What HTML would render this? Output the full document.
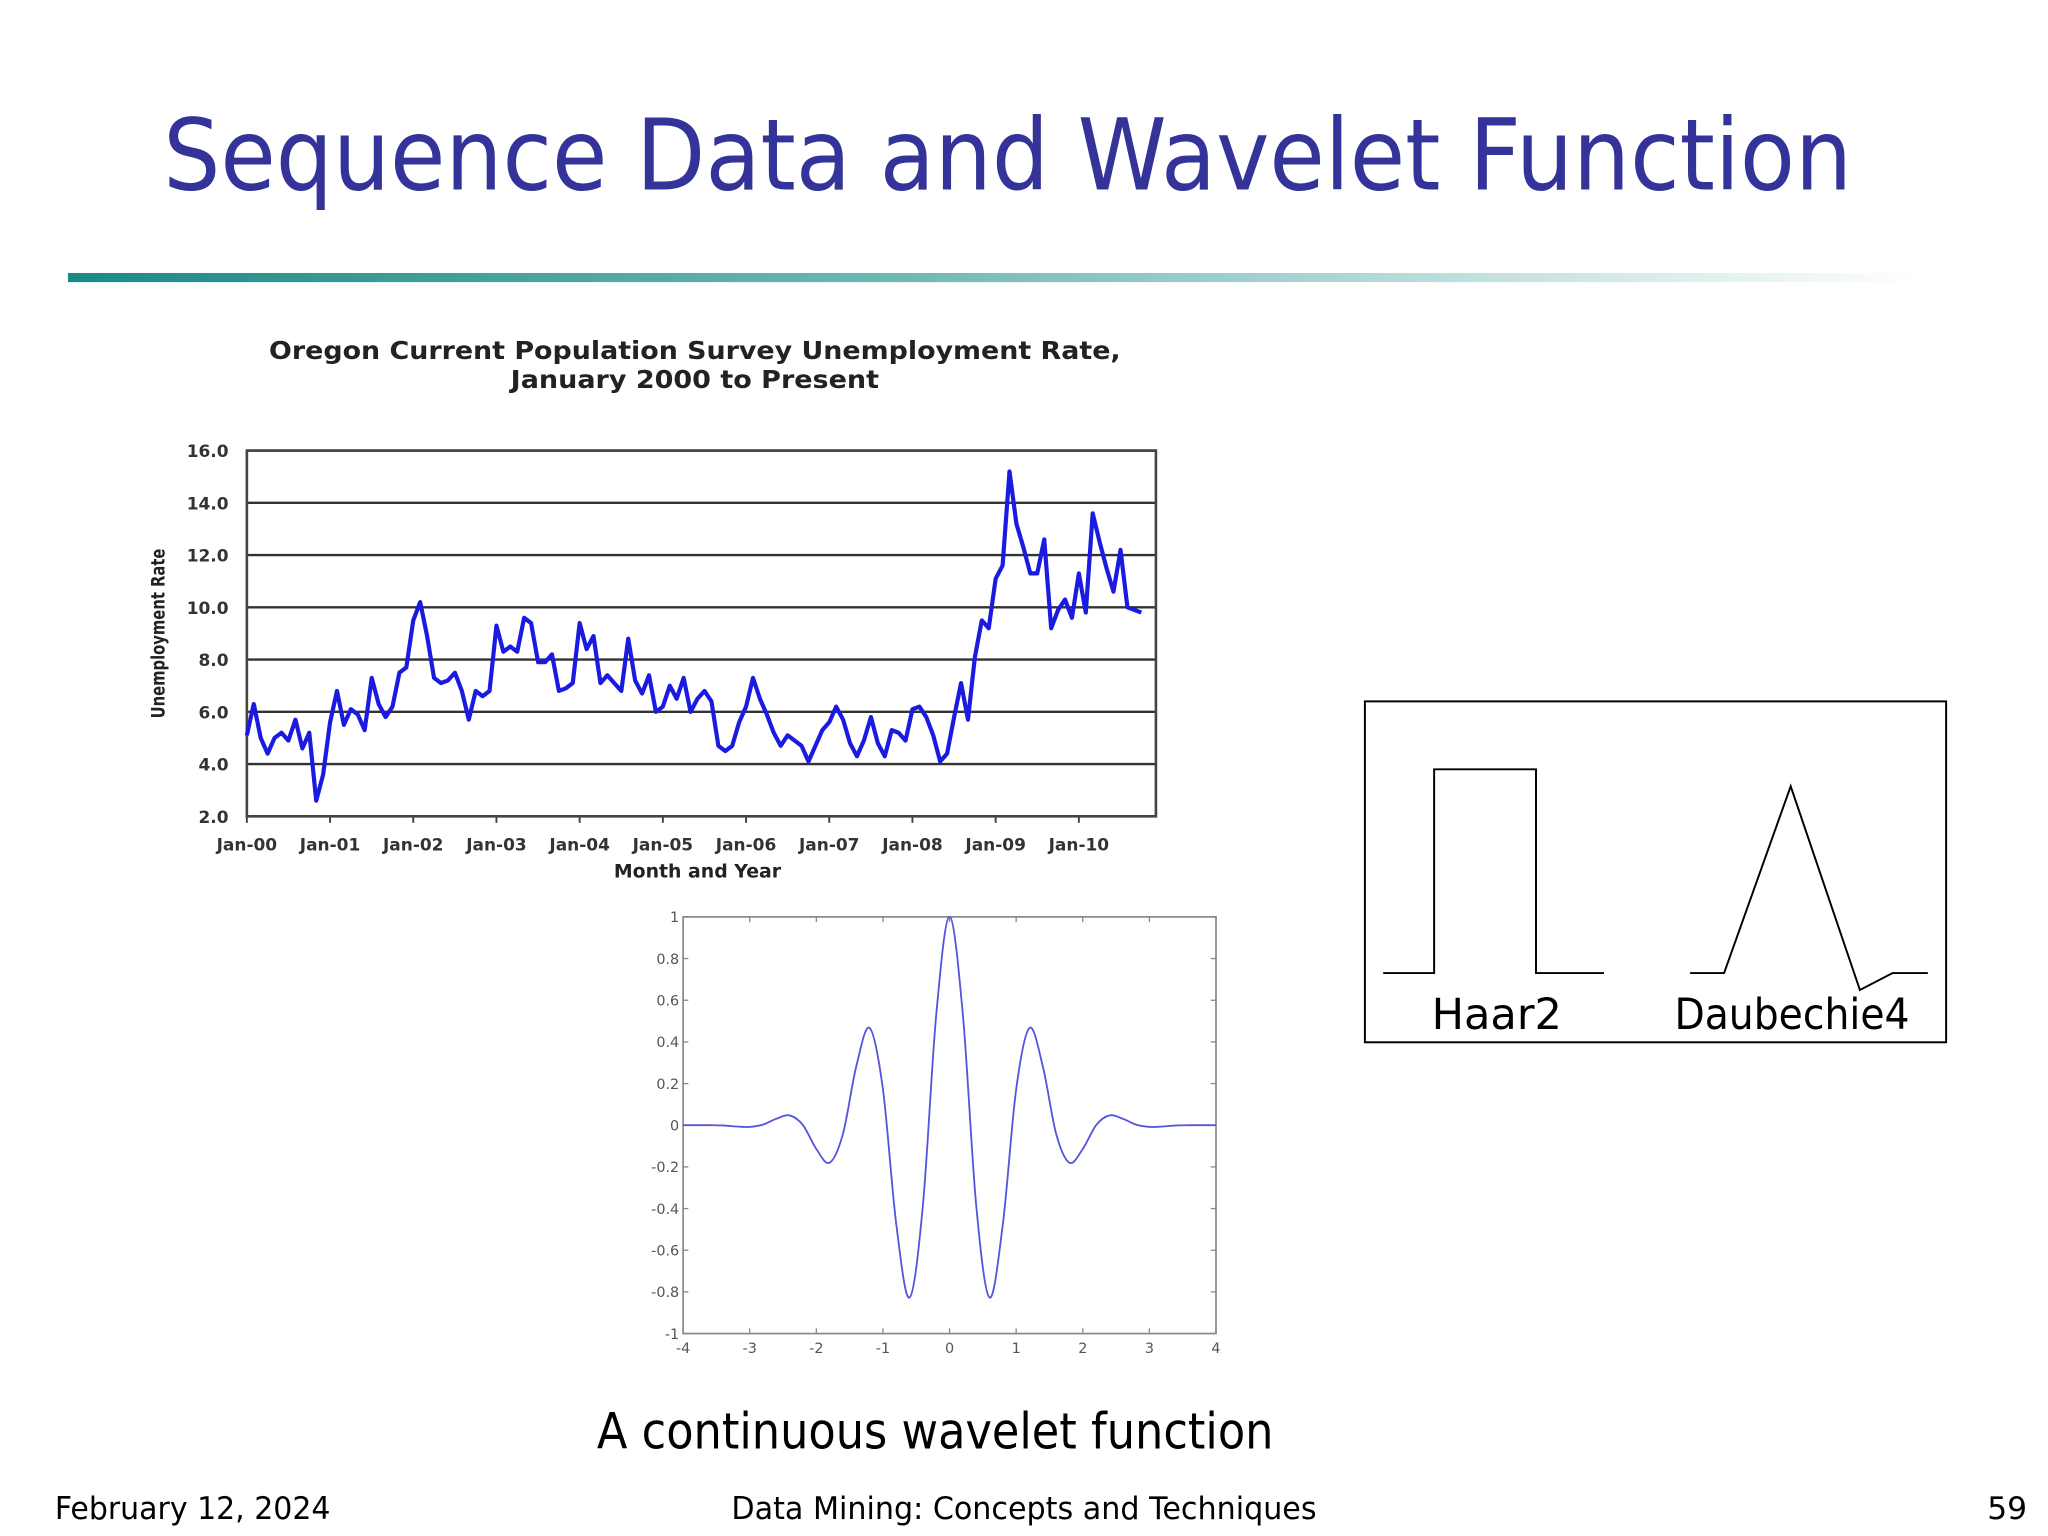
<!DOCTYPE html>
<html><head><meta charset="utf-8"><style>
html,body{margin:0;padding:0;background:#fff;}
svg{display:block;}
text{font-family:"DejaVu Sans","Liberation Sans",sans-serif;}
</style></head><body>
<svg id="slide" width="2048" height="1536" viewBox="0 0 1568 1176" xmlns="http://www.w3.org/2000/svg">
<defs>
<linearGradient id="rule" x1="0" x2="1" y1="0" y2="0">
<stop offset="0" stop-color="#1a8a86"/><stop offset="0.45" stop-color="#6fb8b4"/><stop offset="1" stop-color="#ffffff"/>
</linearGradient>
</defs>
<text x="125" y="145" font-size="76" fill="#333399" textLength="1293" lengthAdjust="spacingAndGlyphs">Sequence Data and Wavelet Function</text>
<rect x="52" y="209" width="1420" height="7" fill="url(#rule)"/>

<g id="chart1">
<text x="532" y="275" font-size="19" font-weight="bold" fill="#222" text-anchor="middle" textLength="652" lengthAdjust="spacingAndGlyphs">Oregon Current Population Survey Unemployment Rate,</text>
<text x="532" y="297" font-size="19" font-weight="bold" fill="#222" text-anchor="middle" textLength="282" lengthAdjust="spacingAndGlyphs">January 2000 to Present</text>
<g id="c1grid"></g>
<rect x="189" y="345" width="696" height="280" fill="none" stroke="#444" stroke-width="2"/>
<g id="c1ticks"></g>
<path id="c1line" fill="none" stroke="#1a1ae0" stroke-width="3.2" stroke-linejoin="round"/>
<text transform="translate(126,485) rotate(-90)" font-size="14" font-weight="bold" fill="#222" text-anchor="middle" textLength="130" lengthAdjust="spacingAndGlyphs">Unemployment Rate</text>
<text x="534" y="672" font-size="14" font-weight="bold" fill="#222" text-anchor="middle" textLength="128" lengthAdjust="spacingAndGlyphs">Month and Year</text>
</g>

<g id="chart2">
<rect x="523" y="702" width="408" height="319" fill="#fff" stroke="#888" stroke-width="1.3"/>
<g id="c2ticks"></g>
<path id="c2line" fill="none" stroke="#5555dd" stroke-width="1.4"/>
</g>

<g>
<rect x="1045" y="537" width="445" height="261" fill="#fff" stroke="#000" stroke-width="1.5"/>
<polyline points="1059,745 1098,745 1098,589 1176,589 1176,745 1228,745" fill="none" stroke="#000" stroke-width="1.5"/>
<polyline points="1294,745 1320,745 1371,602 1424,758 1449,745 1476,745" fill="none" stroke="#000" stroke-width="1.5"/>
<text x="1146" y="788" font-size="33" text-anchor="middle" fill="#000">Haar2</text>
<text x="1372" y="788" font-size="33" text-anchor="middle" fill="#000" textLength="180" lengthAdjust="spacingAndGlyphs">Daubechie4</text>
</g>

<text x="716" y="1109" font-size="38" text-anchor="middle" fill="#000" textLength="518" lengthAdjust="spacingAndGlyphs">A continuous wavelet function</text>
<text x="42" y="1163" font-size="24" fill="#000" textLength="211" lengthAdjust="spacingAndGlyphs">February 12, 2024</text>
<text x="784" y="1163" font-size="24" text-anchor="middle" fill="#000" textLength="448" lengthAdjust="spacingAndGlyphs">Data Mining: Concepts and Techniques</text>
<text x="1552" y="1163" font-size="24" text-anchor="end" fill="#000">59</text>
</svg>
<script>
const NS="http://www.w3.org/2000/svg";
// Chart 1 data
const yTicks=[2,4,6,8,10,12,14,16];
const yearLabels=["Jan-00","Jan-01","Jan-02","Jan-03","Jan-04","Jan-05","Jan-06","Jan-07","Jan-08","Jan-09","Jan-10"];
const rates=[5.1,6.3,5.0,4.4,5.0,5.2,4.9,5.7,4.6,5.2,2.6,3.6,
5.6,6.8,5.5,6.1,5.9,5.3,7.3,6.3,5.8,6.2,7.5,7.7,
9.5,10.2,8.9,7.3,7.1,7.2,7.5,6.8,5.7,6.8,6.6,6.8,
9.3,8.3,8.5,8.3,9.6,9.4,7.9,7.9,8.2,6.8,6.9,7.1,
9.4,8.4,8.9,7.1,7.4,7.1,6.8,8.8,7.2,6.7,7.4,6.0,
6.2,7.0,6.5,7.3,6.0,6.5,6.8,6.4,4.7,4.5,4.7,5.6,
6.2,7.3,6.5,5.9,5.2,4.7,5.1,4.9,4.7,4.1,4.7,5.3,
5.6,6.2,5.7,4.8,4.3,4.9,5.8,4.8,4.3,5.3,5.2,4.9,
6.1,6.2,5.8,5.1,4.1,4.4,5.8,7.1,5.7,8.1,9.5,9.2,
11.1,11.6,15.2,13.2,12.3,11.3,11.3,12.6,9.2,9.9,10.3,9.6,
11.3,9.8,13.6,12.5,11.5,10.6,12.2,10.0,9.9,9.8];
// Chart 2 data
const waveX=[-4,-3.8,-3.6,-3.4,-3.2,-3,-2.8,-2.6,-2.4,-2.2,-2,-1.8,-1.6,-1.4,-1.2,-1,-0.8,-0.6,-0.4,-0.2,0,0.2,0.4,0.6,0.8,1,1.2,1.4,1.6,1.8,2,2.2,2.4,2.6,2.8,3,3.2,3.4,3.6,3.8,4];
const waveY=[0,0,0,-0.001,-0.006,-0.008,0.003,0.031,0.047,0.0004,-0.114,-0.18,-0.041,0.283,0.467,0.172,-0.475,-0.827,-0.384,0.53,1,0.53,-0.384,-0.827,-0.475,0.172,0.467,0.283,-0.041,-0.18,-0.114,0.0004,0.047,0.031,0.003,-0.008,-0.006,-0.001,0,0,0];
const waveYTicks=[-1,-0.8,-0.6,-0.4,-0.2,0,0.2,0.4,0.6,0.8,1];
const waveXTicks=[-4,-3,-2,-1,0,1,2,3,4];

function mk(tag,attrs,parent){const e=document.createElementNS(NS,tag);for(const k in attrs)e.setAttribute(k,attrs[k]);parent.appendChild(e);return e;}

const x1=i=>189+i*(637/120);
const y1=v=>625-(v-2)*(280/14);
const grid=document.getElementById('c1grid'),t1=document.getElementById('c1ticks');
yTicks.forEach(v=>{
 const l=mk('line',{x1:189,x2:885,y1:y1(v),y2:y1(v),stroke:'#333','stroke-width':1.8},grid);
 
 
 const t=mk('text',{x:175,y:y1(v)+5,'font-size':13,'text-anchor':'end',fill:'#333','font-weight':'bold'},t1);
 t.textContent=v.toFixed(1);
 
 
});
yearLabels.forEach((s,i)=>{
 const m=i*12;
 mk('line',{x1:x1(m),x2:x1(m),y1:625,y2:630,stroke:'#444','stroke-width':1.5},t1);
 const t=mk('text',{x:x1(m),y:651,'font-size':13,'text-anchor':'middle',fill:'#333','font-weight':'bold'},t1);
 t.textContent=s;
 
 
});
document.getElementById('c1line').setAttribute('d',rates.map((v,i)=>(i?'L':'M')+x1(i).toFixed(1)+','+y1(v).toFixed(1)).join(''));

const x2=v=>523+(v+4)*(408/8);
const y2=v=>861.5-v*(319/2);
const t2=document.getElementById('c2ticks');
waveYTicks.forEach(v=>{
 mk('line',{x1:523,x2:527,y1:y2(v),y2:y2(v),stroke:'#888'},t2);
 mk('line',{x1:927,x2:931,y1:y2(v),y2:y2(v),stroke:'#888'},t2);
 const t=mk('text',{x:520,y:y2(v)+4,'font-size':11,'text-anchor':'end',fill:'#555'},t2);
 t.textContent=String(v);
 
 
});
waveXTicks.forEach(v=>{
 mk('line',{x1:x2(v),x2:x2(v),y1:1021,y2:1017,stroke:'#888'},t2);
 mk('line',{x1:x2(v),x2:x2(v),y1:702,y2:706,stroke:'#888'},t2);
 const t=mk('text',{x:x2(v),y:1036,'font-size':11,'text-anchor':'middle',fill:'#555'},t2);
 t.textContent=String(v);
 
 
});
const P=waveX.map((x,i)=>[x2(x),y2(waveY[i])]);
let d='M'+P[0][0]+','+P[0][1];
for(let i=0;i<P.length-1;i++){
 const p0=P[Math.max(i-1,0)],p1=P[i],p2=P[i+1],p3=P[Math.min(i+2,P.length-1)];
 const c1=[p1[0]+(p2[0]-p0[0])/6,p1[1]+(p2[1]-p0[1])/6];
 const c2=[p2[0]-(p3[0]-p1[0])/6,p2[1]-(p3[1]-p1[1])/6];
 d+='C'+c1[0].toFixed(2)+','+c1[1].toFixed(2)+' '+c2[0].toFixed(2)+','+c2[1].toFixed(2)+' '+p2[0].toFixed(2)+','+p2[1].toFixed(2);
}
document.getElementById('c2line').setAttribute('d',d);
</script>
</body></html>
